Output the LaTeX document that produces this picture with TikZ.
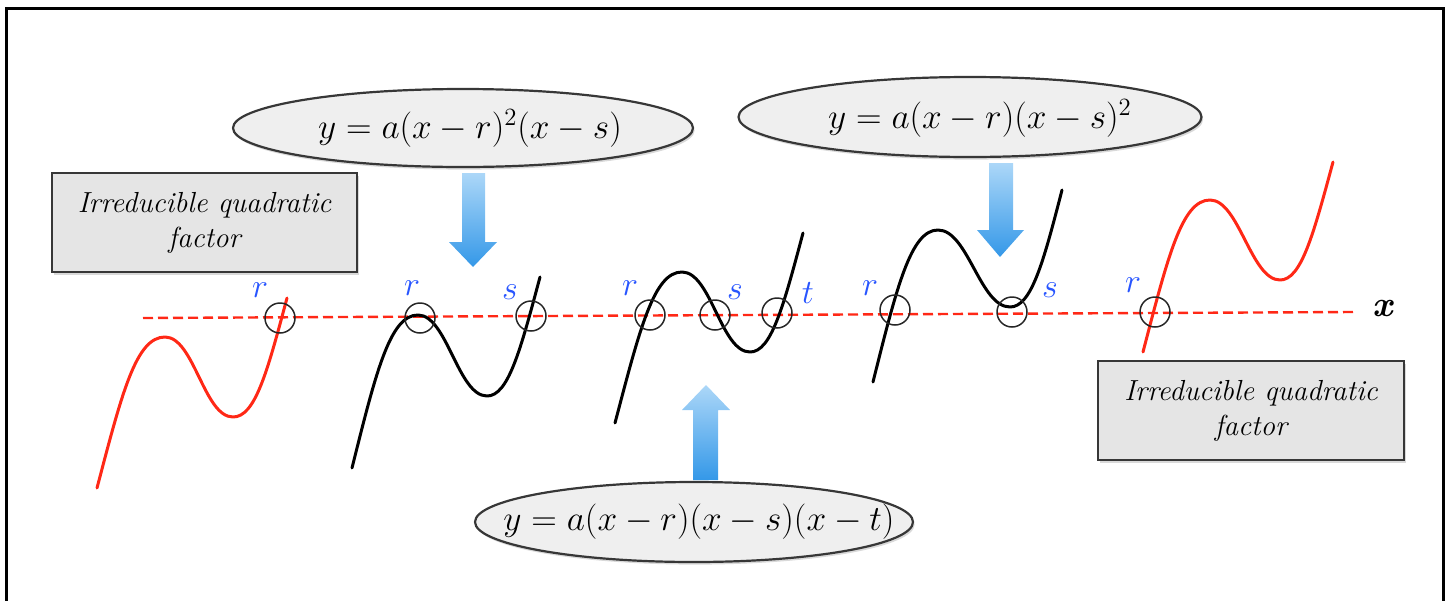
\documentclass[tikz,border=0pt]{standalone}
\usepackage{fix-cm}
\usetikzlibrary{shapes.geometric,shadows}
\definecolor{curvered}{RGB}{255,40,22}
\definecolor{lblue}{RGB}{40,85,255}
\definecolor{arrtop}{RGB}{172,215,248}
\definecolor{arrbot}{RGB}{52,152,232}
\definecolor{ellfill}{RGB}{239,239,239}
\definecolor{boxfill}{RGB}{229,229,229}
\definecolor{edge}{RGB}{55,55,55}
\begin{document}
\begin{tikzpicture}[x=0.5pt,y=-0.5pt,
  eqn/.style={ellipse, draw=edge, line width=1.1pt, fill=ellfill, inner sep=0pt,
    drop shadow={shadow xshift=0.8pt, shadow yshift=-1.3pt, opacity=0.3}},
  eqtext/.style={inner sep=0pt, font=\fontsize{17.7}{21}\selectfont},
  fbox/.style={rectangle, draw=edge, line width=1pt, fill=boxfill, align=center,
    inner sep=0pt, font=\fontsize{14.5}{17.5}\selectfont\itshape,
    drop shadow={shadow xshift=0.8pt, shadow yshift=-1.3pt, opacity=0.3}},
  rootc/.style={circle, draw=black!85, line width=0.75pt, minimum size=15pt, inner sep=0pt},
  rlab/.style={text=lblue, font=\fontsize{17}{20}\selectfont, inner sep=0pt},
  poly/.style={line width=1.5pt, line join=round, line cap=round},
  xaxis/.style={draw=curvered, line width=1.2pt, dash pattern=on 5pt off 2.5pt},
  blockarrow/.style={top color=arrtop, bottom color=arrbot, draw=none}
]
\useasboundingbox (0,0) rectangle (1451,600);
% frame
\draw[line width=1.5pt] (6,604) -- (6,8) -- (1443,8) -- (1443,604);

% axis
\coordinate (axl) at (143,318);
\coordinate (axr) at (1353,312);
\draw[xaxis] (axl) -- (axr);
\node[font=\fontsize{18}{22}\selectfont\bfseries\itshape, inner sep=0pt] (xlab) at (1383,309) {x};

% curves
\draw[poly, curvered] (97,488) .. controls (122,393) and (136,337) .. (165,337)
  .. controls (194,337) and (204,417) .. (233,417)
  .. controls (255,417) and (267,373) .. (287,298);
\draw[poly, black] (352,468) .. controls (376,372) and (390,315) .. (418,315)
  .. controls (447,315) and (458,396) .. (487,396)
  .. controls (508,396) and (520,352) .. (540,277);
\draw[poly, black] (615,423) .. controls (640,328) and (654,272) .. (682,272)
  .. controls (711,272) and (721,352) .. (750,352)
  .. controls (771,352) and (783,308) .. (803,233);
\draw[poly, black] (873,382) .. controls (897,286) and (911,230) .. (938,230)
  .. controls (968,230) and (980,307) .. (1010,307)
  .. controls (1031,307) and (1043,264) .. (1062,190);
\draw[poly, curvered] (1143,352) .. controls (1168,256) and (1182,200) .. (1210,200)
  .. controls (1239,200) and (1251,280) .. (1280,280)
  .. controls (1301,280) and (1313,236) .. (1333,162);

% root circles
\node[rootc] (c1) at (280,318) {};
\node[rootc] (c2) at (420,318) {};
\node[rootc] (c3) at (531,316) {};
\node[rootc] (c4) at (650,315) {};
\node[rootc] (c5) at (715,315) {};
\node[rootc] (c6) at (777,313) {};
\node[rootc] (c7) at (895,310) {};
\node[rootc] (c8) at (1012,312) {};
\node[rootc] (c9) at (1155,312) {};

% root labels
\node[rlab] (l1) at (260,290) {$r$};
\node[rlab] (l2) at (412,288) {$r$};
\node[rlab] (l3) at (510,292) {$s$};
\node[rlab] (l4) at (630,288) {$r$};
\node[rlab] (l5) at (735,292) {$s$};
\node[rlab] (l6) at (808,293) {$t$};
\node[rlab] (l7) at (870,288) {$r$};
\node[rlab] (l8) at (1050,290) {$s$};
\node[rlab] (l9) at (1133,285) {$r$};

% block arrows
\shade[blockarrow] (462,173) -- (485,173) -- (485,242) -- (497,242) -- (473,267) -- (449,242) -- (462,242) -- cycle;
\shade[blockarrow] (989,163) -- (1013,163) -- (1013,230) -- (1024,230) -- (1000,257) -- (977,230) -- (989,230) -- cycle;
\shade[blockarrow] (693,480) -- (718,480) -- (718,410) -- (730,410) -- (706,385) -- (682,410) -- (693,410) -- cycle;

% equation ellipses
\node[eqn, minimum width=230pt, minimum height=39pt] (e1) at (463,128) {};
\node[eqtext] (t1) at (470,128) {$y=a(x-r)^2(x-s)$};
\node[eqn, minimum width=231.5pt, minimum height=40pt] (e2) at (970,117) {};
\node[eqtext] (t2) at (980,118) {$y=a(x-r)(x-s)^2$};
\node[eqn, minimum width=219pt, minimum height=40pt] (e3) at (694,522) {};
\node[eqtext] (t3) at (699,522) {$y=a(x-r)(x-s)(x-t)$};

% boxes
\node[fbox, minimum width=152.5pt, minimum height=49.5pt] (b1) at (204.5,222.5) {Irreducible quadratic\\factor};
\node[fbox, minimum width=153pt, minimum height=49.5pt] (b2) at (1251,410.5) {Irreducible quadratic\\factor};
\end{tikzpicture}
\end{document}
